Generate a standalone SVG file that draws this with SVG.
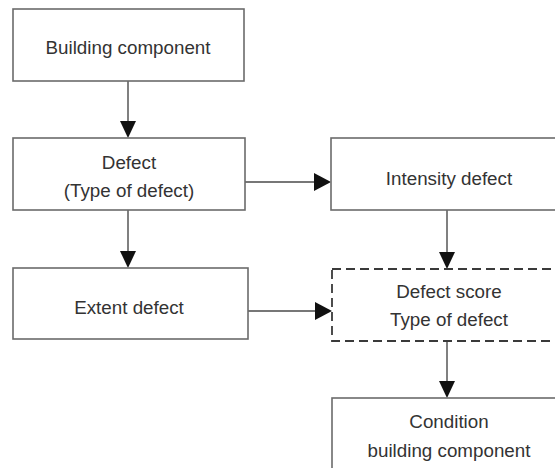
<svg xmlns="http://www.w3.org/2000/svg" width="555" height="468" viewBox="0 0 555 468">
<defs>
<style>
.box{fill:#fff;stroke:#6b6b6b;stroke-width:1.6}
.dash{stroke:#3a3a3a;stroke-width:1.8;stroke-dasharray:9,5}
.t{font-family:"Liberation Sans",Arial,sans-serif;font-size:18.8px;fill:#333;text-anchor:middle}
.ln{stroke:#4a4a4a;stroke-width:1.4;fill:none}
.ah{fill:#111}
</style>
</defs>
<rect width="555" height="468" fill="#fff"/>
<g id="connectors">
<line class="ln" x1="128" y1="81" x2="128" y2="122"/>
<polygon class="ah" points="120,121 136,121 128,138"/>
<line class="ln" x1="128" y1="210" x2="128" y2="252"/>
<polygon class="ah" points="120,251 136,251 128,268"/>
<line class="ln" x1="245" y1="182" x2="315" y2="182"/>
<polygon class="ah" points="314,173 314,191 331,182"/>
<line class="ln" x1="248" y1="311" x2="316" y2="311"/>
<polygon class="ah" points="315,302 315,320 332,311"/>
<line class="ln" x1="447" y1="210" x2="447" y2="253"/>
<polygon class="ah" points="439,252 455,252 447,269"/>
<line class="ln" x1="447" y1="341" x2="447" y2="382"/>
<polygon class="ah" points="439,381 455,381 447,398"/>
</g>
<g id="building-component">
<rect class="box" x="13" y="9" width="231" height="72"/>
<text class="t" x="128" y="54">Building component</text>
</g>
<g id="defect">
<rect class="box" x="13" y="138" width="232" height="72"/>
<text class="t" x="129" y="169">Defect</text>
<text class="t" x="129" y="197">(Type of defect)</text>
</g>
<g id="intensity-defect">
<rect class="box" x="331" y="138" width="235" height="72"/>
<text class="t" x="449" y="185">Intensity defect</text>
</g>
<g id="extent-defect">
<rect class="box" x="13" y="268" width="235" height="71"/>
<text class="t" x="129" y="314">Extent defect</text>
</g>
<g id="defect-score">
<rect class="box dash" x="332" y="269" width="234" height="72"/>
<text class="t" x="449" y="298">Defect score</text>
<text class="t" x="449" y="326">Type of defect</text>
</g>
<g id="condition">
<rect class="box" x="332" y="398" width="234" height="80"/>
<text class="t" x="449" y="428">Condition</text>
<text class="t" x="449" y="457">building component</text>
</g>
</svg>
